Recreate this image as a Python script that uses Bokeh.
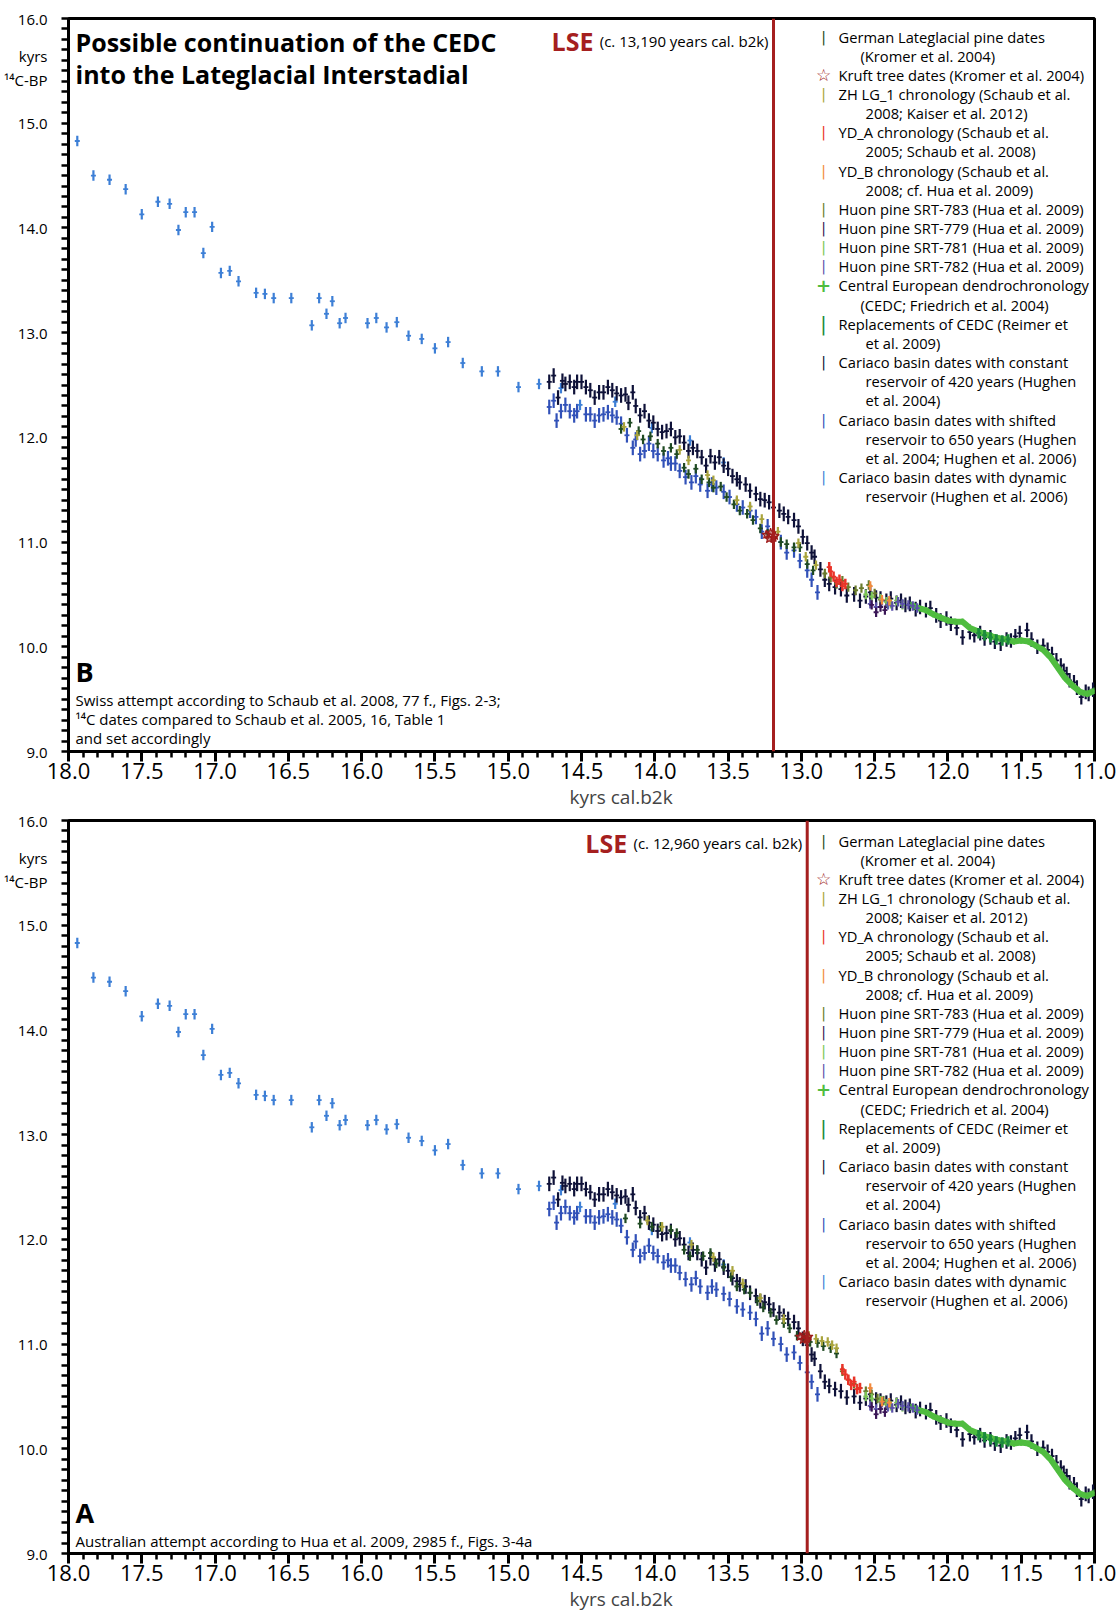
from bokeh.plotting import figure
from bokeh.models import ColumnDataSource, FixedTicker, PrintfTickFormatter, Span, Label, Range1d, Title
from bokeh.layouts import column
from bokeh.embed import file_html
from bokeh.resources import INLINE

FONT = "Open Sans"

# ---------------- axis ticks ----------------
X_TICKS = [18.0, 17.5, 17.0, 16.5, 16.0, 15.5, 15.0, 14.5, 14.0, 13.5, 13.0, 12.5, 12.0, 11.5, 11.0]
Y_TICKS = [9.0, 10.0, 11.0, 12.0, 13.0, 14.0, 15.0, 16.0]
Y_UNIT_POS = 15.53
Y_UNIT_TEXT = "kyrs\n\u00b9\u2074C-BP"
X_UNIT_TEXT = "kyrs cal.b2k"

# ---------------- shared series (kyrs cal. b2k, kyrs 14C BP) ----------------
dyn_x = [17.94, 17.83, 17.72, 17.61, 17.50, 17.39, 17.31, 17.25, 17.20, 17.14, 17.08, 17.02, 16.96,
         16.90, 16.84, 16.72, 16.66, 16.60, 16.48, 16.34, 16.29, 16.24, 16.20, 16.15, 16.11, 15.96,
         15.90, 15.83, 15.76, 15.68, 15.59, 15.50, 15.41, 15.31, 15.18, 15.07, 14.93, 14.79,
         14.64, 14.51, 14.27, 14.02, 13.76, 13.53]
dyn_y = [14.83, 14.50, 14.46, 14.37, 14.13, 14.25, 14.23, 13.98, 14.15, 14.15, 13.76, 14.01, 13.57,
         13.59, 13.49, 13.38, 13.37, 13.33, 13.33, 13.07, 13.33, 13.18, 13.30, 13.09, 13.14, 13.09,
         13.14, 13.05, 13.10, 12.97, 12.94, 12.85, 12.91, 12.71, 12.63, 12.63, 12.48, 12.51,
         12.47, 12.31, 12.34, 12.09, 11.97, 11.76]

c420_x = [14.72, 14.69, 14.66, 14.63, 14.61, 14.58, 14.55, 14.53, 14.50, 14.47,
          14.44, 14.41, 14.38, 14.35, 14.32, 14.29, 14.26, 14.23, 14.20, 14.18,
          14.15, 14.13, 14.10, 14.07, 14.04, 14.01, 13.98, 13.95, 13.92, 13.89,
          13.86, 13.83, 13.80, 13.77, 13.74, 13.71, 13.68, 13.65, 13.62, 13.59,
          13.56, 13.53, 13.50, 13.47, 13.44, 13.42, 13.38, 13.35, 13.31, 13.28,
          13.25, 13.22, 13.19, 13.15, 13.12, 13.09, 13.05, 13.02, 12.99, 12.96,
          12.93, 12.91, 12.87, 12.84, 12.81, 12.77, 12.73, 12.69, 12.64, 12.60,
          12.56, 12.53, 12.49, 12.46, 12.42, 12.39, 12.35, 12.32, 12.29, 12.26,
          12.22, 12.19, 12.15, 12.12, 12.08, 12.05, 12.01, 11.98, 11.94, 11.90,
          11.85, 11.82, 11.78, 11.75, 11.71, 11.68, 11.64, 11.60, 11.57, 11.54,
          11.51, 11.46, 11.43, 11.39, 11.35, 11.32, 11.29, 11.26, 11.23, 11.21,
          11.19, 11.17, 11.14, 11.12, 11.09, 11.06, 11.04, 11.01]
c420_y = [12.53, 12.59, 12.38, 12.54, 12.51, 12.53, 12.48, 12.53, 12.53, 12.48,
          12.45, 12.38, 12.43, 12.43, 12.48, 12.45, 12.42, 12.40, 12.41, 12.33,
          12.43, 12.30, 12.21, 12.25, 12.16, 12.14, 12.08, 12.05, 12.06, 12.08,
          12.00, 12.01, 11.95, 11.87, 11.90, 11.87, 11.81, 11.73, 11.82, 11.76,
          11.81, 11.73, 11.70, 11.63, 11.60, 11.57, 11.55, 11.49, 11.46, 11.41,
          11.40, 11.38, 11.33, 11.30, 11.27, 11.24, 11.21, 11.15, 11.05, 10.99,
          10.90, 10.86, 10.74, 10.64, 10.60, 10.57, 10.55, 10.49, 10.50, 10.44,
          10.48, 10.52, 10.47, 10.46, 10.44, 10.46, 10.42, 10.44, 10.40, 10.41,
          10.36, 10.38, 10.35, 10.37, 10.30, 10.25, 10.27, 10.22, 10.18, 10.09,
          10.14, 10.11, 10.13, 10.08, 10.09, 10.05, 10.03, 10.07, 10.06, 10.10,
          10.13, 10.16, 10.07, 10.00, 10.01, 9.97, 9.93, 9.87, 9.82, 9.77,
          9.74, 9.68, 9.66, 9.61, 9.52, 9.57, 9.55, 9.59]

c650_x = [14.72, 14.69, 14.67, 14.64, 14.61, 14.58, 14.55, 14.53, 14.47, 14.44,
          14.41, 14.38, 14.35, 14.32, 14.29, 14.26, 14.23, 14.19, 14.15, 14.13,
          14.10, 14.07, 14.04, 14.01, 13.98, 13.94, 13.91, 13.89, 13.86, 13.83,
          13.79, 13.75, 13.72, 13.69, 13.64, 13.61, 13.58, 13.53, 13.49, 13.44,
          13.40, 13.35, 13.31, 13.27, 13.23, 13.19, 13.14, 13.10, 13.05, 13.01,
          12.96, 12.93, 12.89]
c650_y = [12.29, 12.35, 12.16, 12.25, 12.31, 12.25, 12.21, 12.25, 12.22, 12.22,
          12.16, 12.21, 12.22, 12.24, 12.21, 12.19, 12.13, 12.02, 11.90, 11.98,
          11.84, 11.87, 11.94, 11.87, 11.84, 11.78, 11.80, 11.75, 11.75, 11.68,
          11.62, 11.57, 11.63, 11.55, 11.49, 11.55, 11.52, 11.48, 11.43, 11.36,
          11.33, 11.30, 11.24, 11.10, 11.15, 11.05, 11.00, 10.90, 10.92, 10.82,
          10.73, 10.64, 10.52]

cedc_x = [12.25, 12.20, 12.15, 12.10, 12.05, 12.00, 11.95, 11.90, 11.85, 11.80, 11.75, 11.70, 11.65,
          11.60, 11.55, 11.50, 11.45, 11.40, 11.35, 11.30, 11.25, 11.20, 11.15, 11.10, 11.05, 11.00]
cedc_y = [10.40, 10.37, 10.35, 10.31, 10.28, 10.25, 10.24, 10.24, 10.18, 10.15, 10.12, 10.10, 10.08,
          10.07, 10.05, 10.06, 10.05, 10.01, 9.97, 9.90, 9.80, 9.70, 9.63, 9.57, 9.55, 9.58]

repl_x = [11.79, 11.75, 11.71, 11.67, 11.63, 11.59]
repl_y = [10.13, 10.11, 10.09, 10.07, 10.06, 10.07]

h779_x = [12.52, 12.49, 12.46, 12.43]
h779_y = [10.40, 10.33, 10.38, 10.35]
h781_x = [12.56, 12.52, 12.46, 12.42, 12.39, 12.35, 12.31]
h781_y = [10.50, 10.48, 10.46, 10.43, 10.41, 10.44, 10.40]
h782_x = [12.53, 12.49, 12.45, 12.41, 12.38, 12.34, 12.31, 12.27, 12.24, 12.21]
h782_y = [10.41, 10.38, 10.44, 10.40, 10.39, 10.43, 10.41, 10.40, 10.39, 10.37]
ydb_x = [12.53, 12.45, 12.40]
ydb_y = [10.58, 10.45, 10.44]

# ---------------- panel B (Swiss attempt) ----------------
B_pine_x = [14.23, 14.17, 14.11, 14.08, 14.03, 13.98, 13.94, 13.89, 13.85, 13.80, 13.77, 13.72, 13.68, 13.63,
            13.60, 13.55, 13.51, 13.46, 13.42, 13.37, 13.33, 13.28, 13.23, 13.19, 13.14, 13.10, 13.05, 13.01,
            12.96, 12.92]
B_pine_y = [12.08, 12.14, 12.06, 11.98, 12.01, 11.94, 11.87, 11.90, 11.84, 11.71, 11.65, 11.70, 11.60, 11.57,
            11.52, 11.53, 11.43, 11.36, 11.30, 11.27, 11.21, 11.13, 11.08, 11.03, 11.00, 10.98, 10.95, 10.95,
            10.79, 10.73]
B_zh_x = [14.21, 14.12, 13.83, 13.77, 13.64, 13.60, 13.44, 13.35, 13.27, 13.16, 13.02, 12.97, 12.90]
B_zh_y = [12.10, 12.02, 11.88, 11.78, 11.64, 11.59, 11.40, 11.34, 11.22, 11.10, 10.99, 10.86, 10.78]
B_yda_x = [12.81, 12.80, 12.78, 12.76, 12.74, 12.72, 12.70]
B_yda_y = [10.76, 10.72, 10.67, 10.62, 10.64, 10.58, 10.60]
B_h783_x = [12.84, 12.80, 12.76, 12.72, 12.68, 12.63, 12.59, 12.54, 12.50, 12.46]
B_h783_y = [10.70, 10.66, 10.60, 10.63, 10.57, 10.54, 10.56, 10.59, 10.51, 10.45]
B_kruft_x = [13.24, 13.22, 13.21, 13.19, 13.18]
B_kruft_y = [11.07, 11.03, 11.09, 11.04, 11.06]
B_lse = 13.19

# ---------------- panel A (Australian attempt) ----------------
A_pine_x = [14.20, 14.10, 14.02, 13.96, 13.89, 13.85, 13.80, 13.76, 13.71, 13.67, 13.62, 13.58, 13.53, 13.48,
            13.44, 13.39, 13.35, 13.30, 13.26, 13.21, 13.17, 13.12, 13.08, 13.03, 12.98, 12.94, 12.89, 12.85,
            12.80, 12.76]
A_pine_y = [12.20, 12.15, 12.12, 12.12, 12.09, 12.06, 11.90, 11.84, 11.90, 11.84, 11.87, 11.77, 11.74, 11.64,
            11.55, 11.52, 11.49, 11.41, 11.35, 11.30, 11.23, 11.20, 11.15, 11.08, 11.06, 11.02, 11.01, 10.98,
            10.96, 10.91]
A_zh_x = [14.05, 13.95, 13.75, 13.60, 13.47, 13.40, 13.28, 13.12, 12.95, 12.90, 12.86, 12.82, 12.79, 12.76]
A_zh_y = [12.18, 12.12, 11.95, 11.83, 11.70, 11.58, 11.44, 11.24, 11.08, 11.05, 11.03, 11.02, 10.99, 10.96]
A_yda_x = [12.72, 12.70, 12.68, 12.66, 12.64, 12.62, 12.60]
A_yda_y = [10.76, 10.71, 10.66, 10.61, 10.64, 10.57, 10.58]
A_h783_x = [12.72, 12.68, 12.64, 12.60, 12.56, 12.52, 12.48, 12.44]
A_h783_y = [10.74, 10.66, 10.62, 10.58, 10.55, 10.52, 10.48, 10.46]
A_kruft_x = [13.01, 12.99, 12.98, 12.96, 12.95]
A_kruft_y = [11.07, 11.04, 11.09, 11.05, 11.07]
A_lse = 12.96

# ---------------- colours ----------------
C_DYN = "#3d7fd6"
C_650 = "#3151b8"
C_420 = "#0e1138"
C_PINE = "#1f4a22"
C_ZH = "#a9a43c"
C_YDA = "#ea3328"
C_YDB = "#f28a3c"
C_H783 = "#6a7b2c"
C_H779 = "#3a1656"
C_H781 = "#7cc655"
C_H782 = "#5b52aa"
C_CEDC = "#4fbd3f"
C_REPL = "#1c8a3d"
C_KRUFT = "#9e1b1b"
C_LSE = "#a51f1f"

LEGEND_ROWS = [
    ("|", C_PINE, ["German Lateglacial pine dates", "(Kromer et al. 2004)"]),
    ("\u2606", C_KRUFT, ["Kruft tree dates (Kromer et al. 2004)"]),
    ("|", C_ZH, ["ZH LG_1 chronology (Schaub et al.", "2008; Kaiser et al. 2012)"]),
    ("|", C_YDA, ["YD_A chronology (Schaub et al.", "2005; Schaub et al. 2008)"]),
    ("|", C_YDB, ["YD_B chronology (Schaub et al.", "2008; cf. Hua et al. 2009)"]),
    ("|", C_H783, ["Huon pine SRT-783 (Hua et al. 2009)"]),
    ("|", C_H779, ["Huon pine SRT-779 (Hua et al. 2009)"]),
    ("|", C_H781, ["Huon pine SRT-781 (Hua et al. 2009)"]),
    ("|", C_H782, ["Huon pine SRT-782 (Hua et al. 2009)"]),
    ("+", C_CEDC, ["Central European dendrochronology", "(CEDC; Friedrich et al. 2004)"]),
    ("|", C_REPL, ["Replacements of CEDC (Reimer et", "et al. 2009)"]),
    ("|", C_420, ["Cariaco basin dates with constant", "reservoir of 420 years (Hughen", "et al. 2004)"]),
    ("|", C_650, ["Cariaco basin dates with shifted", "reservoir to 650 years (Hughen",
                  "et al. 2004; Hughen et al. 2006)"]),
    ("|", C_DYN, ["Cariaco basin dates with dynamic", "reservoir (Hughen et al. 2006)"]),
]

X_START, X_END = 18.0, 11.0
Y_START, Y_END = 9.0, 16.0
FRAME_W = 1026


def ticks_every(a, b, step):
    out = []
    v = a
    while v < b + 1e-9:
        out.append(round(v, 2))
        v += step
    return out


def err_series(p, xs, ys, err, color, lw=2.2, cross=True, alpha=1.0):
    src = ColumnDataSource(dict(x=xs, lo=[v - err for v in ys], hi=[v + err for v in ys], y=ys))
    p.segment(x0="x", y0="lo", x1="x", y1="hi", source=src, line_color=color, line_width=lw, line_alpha=alpha)
    if cross:
        p.scatter(x="x", y="y", source=src, marker="dash", size=5, line_color=color, line_width=1.8,
                  line_alpha=alpha)


def make_panel(frame_h, border_top, border_bottom, d, texts):
    p = figure(frame_width=FRAME_W, frame_height=frame_h,
               x_range=Range1d(X_START, X_END), y_range=Range1d(Y_START, Y_END),
               output_backend="svg", toolbar_location=None,
               min_border_left=68, min_border_right=26, min_border_top=border_top,
               min_border_bottom=border_bottom)
    p.xgrid.visible = False
    p.ygrid.visible = False
    p.outline_line_color = "black"
    p.outline_line_width = 3
    p.background_fill_color = "white"
    p.border_fill_color = "white"

    xa = p.xaxis[0]
    xa.ticker = FixedTicker(ticks=X_TICKS, minor_ticks=ticks_every(11.0, 18.0, 0.1))
    xa.formatter = PrintfTickFormatter(format="%.1f")
    xa.major_label_text_font = FONT
    xa.major_label_text_font_size = "22px"
    xa.major_label_text_color = "black"
    xa.major_label_standoff = 1
    xa.axis_line_width = 3
    xa.major_tick_line_width = 3
    xa.minor_tick_line_width = 2.5
    xa.major_tick_out = 10
    xa.major_tick_in = 0
    xa.minor_tick_out = 6
    xa.minor_tick_in = 0

    ya = p.yaxis[0]
    ya.ticker = FixedTicker(ticks=Y_TICKS + [Y_UNIT_POS], minor_ticks=ticks_every(9.0, 16.0, 0.1))
    ya.formatter = PrintfTickFormatter(format="%.1f")
    ya.major_label_overrides = {Y_UNIT_POS: Y_UNIT_TEXT}
    ya.major_label_text_font = FONT
    ya.major_label_text_font_size = "15px"
    ya.major_label_text_color = "black"
    ya.major_label_standoff = 14
    ya.axis_line_width = 3
    ya.major_tick_line_width = 3
    ya.minor_tick_line_width = 2.5
    ya.major_tick_out = 0
    ya.major_tick_in = 0
    ya.minor_tick_out = 7
    ya.minor_tick_in = 0

    p.add_layout(Title(text=X_UNIT_TEXT, align="left", offset=501, text_font=FONT,
                       text_font_size="19px", text_font_style="normal", standoff=0), "below")

    # data
    err_series(p, c650_x, c650_y, 0.07, C_650)
    err_series(p, dyn_x, dyn_y, 0.05, C_DYN)
    err_series(p, c420_x, c420_y, 0.07, C_420)
    p.line(cedc_x, cedc_y, line_color=C_CEDC, line_width=6)
    err_series(p, cedc_x, cedc_y, 0.03, C_CEDC)
    err_series(p, repl_x, repl_y, 0.05, C_REPL, lw=3)
    err_series(p, d["h783_x"], d["h783_y"], 0.045, C_H783)
    err_series(p, h781_x, h781_y, 0.045, C_H781)
    err_series(p, h782_x, h782_y, 0.045, C_H782)
    err_series(p, h779_x, h779_y, 0.045, C_H779)
    err_series(p, d["pine_x"], d["pine_y"], 0.045, C_PINE)
    err_series(p, d["zh_x"], d["zh_y"], 0.045, C_ZH)
    err_series(p, ydb_x, ydb_y, 0.045, C_YDB)
    err_series(p, d["yda_x"], d["yda_y"], 0.05, C_YDA, lw=2.5)
    p.scatter(d["kruft_x"], d["kruft_y"], marker="star", size=9, line_color=C_KRUFT,
              fill_color=C_KRUFT, fill_alpha=0.5, line_width=1.2)

    p.add_layout(Span(location=d["lse"], dimension="height", line_color=C_LSE, line_width=3))

    def px_x(px):
        return X_START - px * (X_START - X_END) / FRAME_W

    def px_y(py):
        return Y_END - py * (Y_END - Y_START) / frame_h

    def lab(px, py, text, size, align="left", bold=False, color="black", font=FONT):
        p.add_layout(Label(x=px_x(px), y=px_y(py), text=text, text_font=font, text_font_size=size,
                           text_align=align, text_baseline="middle", text_color=color,
                           text_font_style="bold" if bold else "normal"))

    # LSE annotation
    lse_px = (X_START - d["lse"]) / (X_START - X_END) * FRAME_W
    lab(lse_px - 5, 22, texts["lse"], "15px", align="right")
    lab(lse_px - 180, 22, "LSE", "25px", align="right", bold=True, color=C_LSE)

    # legend
    line_h = 19.15
    row = 0
    top = texts["leg_top"]
    for glyph, color, lines in LEGEND_ROWS:
        gy = top + row * line_h
        if glyph == "\u2606":
            lab(755, gy, glyph, "17px", align="center", bold=True, color=color, font="DejaVu Sans")
        elif glyph == "+":
            lab(755, gy, glyph, "18px", align="center", bold=True, color=color, font="DejaVu Sans")
        else:
            lab(755, gy, glyph, "14px" if color != C_REPL else "19px", align="center", color=color,
                font="DejaVu Sans")
        for i, t in enumerate(lines):
            xpx = 770 if i == 0 else (792 if t.startswith("(") else 797)
            lab(xpx, top + row * line_h, t, "14.7px")
            row += 1

    # titles / notes
    for px, py, t, size, bold in texts["notes"]:
        lab(px, py, t, size, bold=bold)
    return p


B_data = dict(pine_x=B_pine_x, pine_y=B_pine_y, zh_x=B_zh_x, zh_y=B_zh_y, yda_x=B_yda_x, yda_y=B_yda_y,
              h783_x=B_h783_x, h783_y=B_h783_y, kruft_x=B_kruft_x, kruft_y=B_kruft_y, lse=B_lse)
A_data = dict(pine_x=A_pine_x, pine_y=A_pine_y, zh_x=A_zh_x, zh_y=A_zh_y, yda_x=A_yda_x, yda_y=A_yda_y,
              h783_x=A_h783_x, h783_y=A_h783_y, kruft_x=A_kruft_x, kruft_y=A_kruft_y, lse=A_lse)

B_texts = dict(lse="(c. 13,190 years cal. b2k)", leg_top=18, notes=[
    (7, 23, "Possible continuation of the CEDC", "25px", True),
    (7, 55, "into the Lateglacial Interstadial", "25px", True),
    (7, 653, "B", "27px", True),
    (7, 681, "Swiss attempt according to Schaub et al. 2008, 77 f., Figs. 2-3;", "15px", False),
    (7, 700, "\u00b9\u2074C dates compared to Schaub et al. 2005, 16, Table 1", "15px", False),
    (7, 719, "and set accordingly", "15px", False),
])
A_texts = dict(lse="(c. 12,960 years cal. b2k)", leg_top=20, notes=[
    (7, 692, "A", "27px", True),
    (7, 720, "Australian attempt according to Hua et al. 2009, 2985 f., Figs. 3-4a", "15px", False),
])

pB = make_panel(733, 18, 60, B_data, B_texts)
pA = make_panel(733, 9, 59, A_data, A_texts)

layout = column(pB, pA, spacing=0)
open("out.html", "w").write(file_html(layout, INLINE))
